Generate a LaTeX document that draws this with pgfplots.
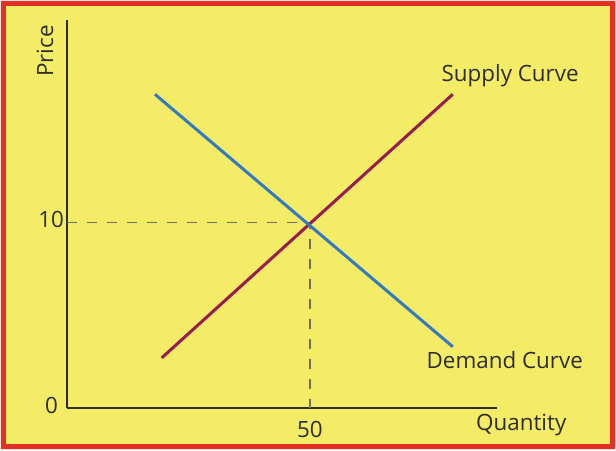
\documentclass[border=0pt]{standalone}
\usepackage{pgfplots}
\pgfplotsset{compat=1.18}
\usepackage{fontspec}
\setmainfont{Open Sans}
\definecolor{bgyellow}{RGB}{244,236,102}
\definecolor{frame}{RGB}{226,48,36}
\definecolor{supply}{RGB}{152,28,78}
\definecolor{demand}{RGB}{52,122,192}
\definecolor{ink}{RGB}{45,45,45}
\definecolor{guide}{RGB}{110,110,100}
\begin{document}
\begin{tikzpicture}
 % picture is 616x450 px, 1 px = 0.5pt, axis origin at px (67,408)
 \useasboundingbox (-33.5pt,-21pt) rectangle (274.5pt,204pt);
 \fill[white!85!frame] (-33.5pt,-21pt) rectangle (274.5pt,204pt);
 \filldraw[fill=bgyellow,draw=frame,line width=2.5pt] (-31.5pt,-19pt) rectangle (272.5pt,202pt);
 \begin{axis}[
   at={(0,0)},anchor=south west,
   scale only axis,width=215pt,height=194pt,
   xmin=0,xmax=88.5,ymin=0,ymax=20.9,
   axis x line=bottom,axis y line=left,
   axis line style={-,ink,line width=1pt},
   xtick={50},ytick={10},
   extra y ticks={0},
   extra y tick style={yticklabel style={xshift=-3pt,yshift=0pt}},
   major tick length=0pt,
   font=\fontsize{11.2pt}{13pt}\selectfont,
   tick label style={ink},
   /pgf/number format/assume math mode=true,
   xticklabel style={yshift=-3pt},
   yticklabel style={xshift=2pt,yshift=1.5pt},
   xlabel={Quantity},ylabel={Price},
   xlabel style={at={(axis description cs:0.935,-0.044)},anchor=west,ink},
   ylabel style={at={(axis description cs:-0.051,1.005)},anchor=east,rotate=0,ink},
   clip=false,
 ]
  \addplot[guide,line width=0.65pt,dash pattern=on 5pt off 5pt] coordinates {(0,10) (50,10) (50,0)};
  \addplot[supply,line width=1.5pt] coordinates {(19.5,2.7) (79.4,16.9)};
  \addplot[demand,line width=1.5pt] coordinates {(18.1,16.9) (79.4,3.3)};
  \node[ink] at (axis cs:91.2,17.9) {Supply Curve};
  \node[ink] at (axis cs:90.1,2.6) {Demand Curve};
 \end{axis}
\end{tikzpicture}
\end{document}
